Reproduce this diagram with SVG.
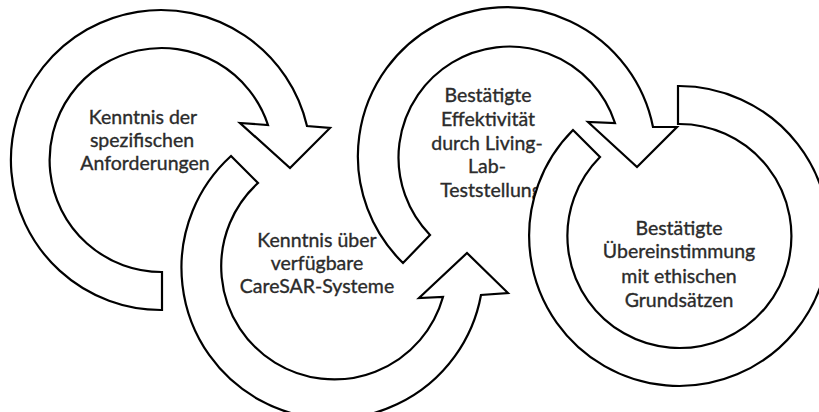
<svg xmlns="http://www.w3.org/2000/svg" width="819" height="412" viewBox="0 0 819 412">
<style>
.arrow{fill:#ffffff;stroke:#000000;stroke-width:2.2;stroke-linejoin:miter}
.lbl{font-family:Lato,"Open Sans","Liberation Sans",sans-serif;font-size:19.5px;fill:#2b2b2b;stroke:#2b2b2b;stroke-width:0.35;text-anchor:middle}
</style>
<rect width="819" height="412" fill="#ffffff"/>
<g id="node1">
<path class="arrow" d="M162,310 A150,150 0 1 1 307,126 L330,128 L290,168 L240,123 L268,125 A112,112 0 1 0 162,272 Z"/>
<text class="lbl"><tspan x="143" y="124">Kenntnis der</tspan><tspan x="142" y="147">spezifischen</tspan><tspan x="145" y="170">Anforderungen</tspan></text>
</g>
<g id="node2">
<path class="arrow" d="M231,156 A151,151 0 1 0 481,295 L508,293 L467,253 L419,298 L443,297 A113,113 0 1 1 258,183 Z"/>
<text class="lbl"><tspan x="317" y="247">Kenntnis über</tspan><tspan x="317" y="270">verfügbare</tspan><tspan x="317" y="293">CareSAR-Systeme</tspan></text>
</g>
<g id="node3-label">
<text class="lbl"><tspan x="488" y="102">Bestätigte</tspan><tspan x="488" y="126">Effektivität</tspan><tspan x="487" y="150">durch Living-</tspan><tspan x="487" y="173">Lab-</tspan><tspan x="491" y="197">Teststellung</tspan></text>
</g>
<g id="node4">
<path class="arrow" d="M678,86 A150,150 0 1 1 573,130 L600,157 A112,112 0 1 0 678,124 Z"/>
<text class="lbl"><tspan x="679" y="235">Bestätigte</tspan><tspan x="679" y="258">Übereinstimmung</tspan><tspan x="679" y="283">mit ethischen</tspan><tspan x="679" y="307">Grundsätzen</tspan></text>
</g>
<g id="node3">
<path class="arrow" d="M403,263 A149,149 0 1 1 653,127 L677,127 L637,167 L588,122 L615,123 A111,111 0 1 0 430,235 Z"/>
</g>
<g id="connectors"></g>
</svg>
